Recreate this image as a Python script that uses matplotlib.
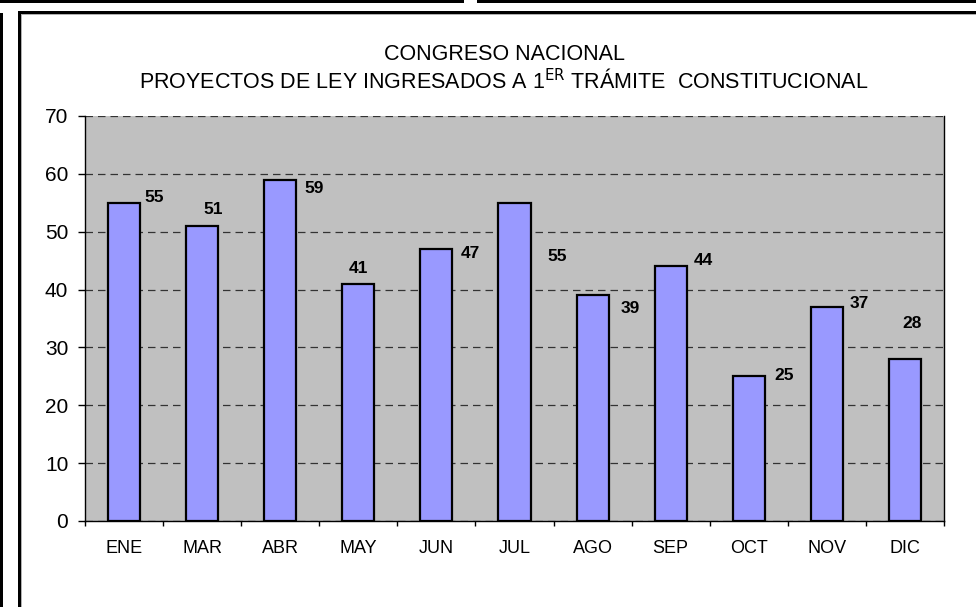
import matplotlib
matplotlib.use("Agg")
from matplotlib import pyplot as plt
from matplotlib.patches import Rectangle

plt.rcParams['font.family'] = ['Liberation Sans', 'DejaVu Sans']

meses = ['ENE', 'MAR', 'ABR', 'MAY', 'JUN', 'JUL', 'AGO', 'SEP', 'OCT', 'NOV', 'DIC']
proyectos = [55, 51, 59, 41, 47, 55, 39, 44, 25, 37, 28]

# where Excel dropped each data label, offset in pixels from the bar's top centre
label_dx = [30, 11, 34, 0, 34, 43, 38, 33, 35, 32, 7]
label_dy = [5, 16, -9, 15, -4, -54, -13, 6, 1, 3, 35]

W, H = 976, 607
fig = plt.figure(figsize=(W / 100, H / 100), dpi=100)


def fbox(x0, y0, x1, y1, color='black'):
    # rectangle given in pixel coords from the top-left corner
    fig.patches.append(Rectangle((x0 / W, 1 - y1 / H), (x1 - x0) / W, (y1 - y0) / H,
                                 transform=fig.transFigure, facecolor=color,
                                 edgecolor='none', zorder=5))


# page frame lines
fbox(0, 0, 464, 2.5)
fbox(477, 0, W, 2.5)
fbox(0, 13, 2.5, H)
fbox(18, 11, W, 14)
fbox(18, 11, 21, H)
fbox(21, 14, W, 15, '#b0b0b0')
fbox(21, 14, 22, H, '#b0b0b0')

ax = fig.add_axes([85 / W, 1 - 521 / H, (944 - 85) / W, (521 - 116) / H])
ax.set_facecolor('#c0c0c0')

x = range(len(meses))
ax.bar(x, proyectos, width=0.41, color='#9999ff', edgecolor='black', linewidth=1.6, zorder=3)

for i, v in enumerate(proyectos):
    ax.annotate(str(v), xy=(i, v), xytext=(label_dx[i], label_dy[i]),
                textcoords='offset pixels', ha='center', va='center',
                fontsize=12.5, fontweight='bold', zorder=4)

ax.set_xlim(-0.5, len(meses) - 0.5)
ax.set_ylim(0, 70)
ax.set_yticks(range(0, 71, 10))
ax.yaxis.grid(True, linestyle=(0, (6, 4)), color='#333333', linewidth=0.9, zorder=1)
ax.set_axisbelow(True)

ax.set_xticks(x)
ax.set_xticklabels(meses, fontsize=13)
ax.set_xticks([i - 0.5 for i in range(len(meses) + 1)], minor=True)
ax.tick_params(axis='x', which='major', length=0, pad=14)
ax.tick_params(axis='x', which='minor', length=3.6, width=1, direction='out')
ax.tick_params(axis='y', length=5, width=1, direction='out', pad=7, labelsize=15)

ax.spines['top'].set_visible(False)
for s in ['left', 'bottom', 'right']:
    ax.spines[s].set_linewidth(1)
    ax.spines[s].set_color('black')

fig.text(504 / W, 1 - 55 / H, 'CONGRESO NACIONAL', ha='center', va='center', fontsize=15.5)
fig.text(504 / W, 1 - 81 / H,
         'PROYECTOS DE LEY INGRESADOS A 1$^{\\mathrm{ER}}$ TRÁMITE  CONSTITUCIONAL',
         ha='center', va='center', fontsize=15.5)

fig.savefig('out.png', dpi=100)
